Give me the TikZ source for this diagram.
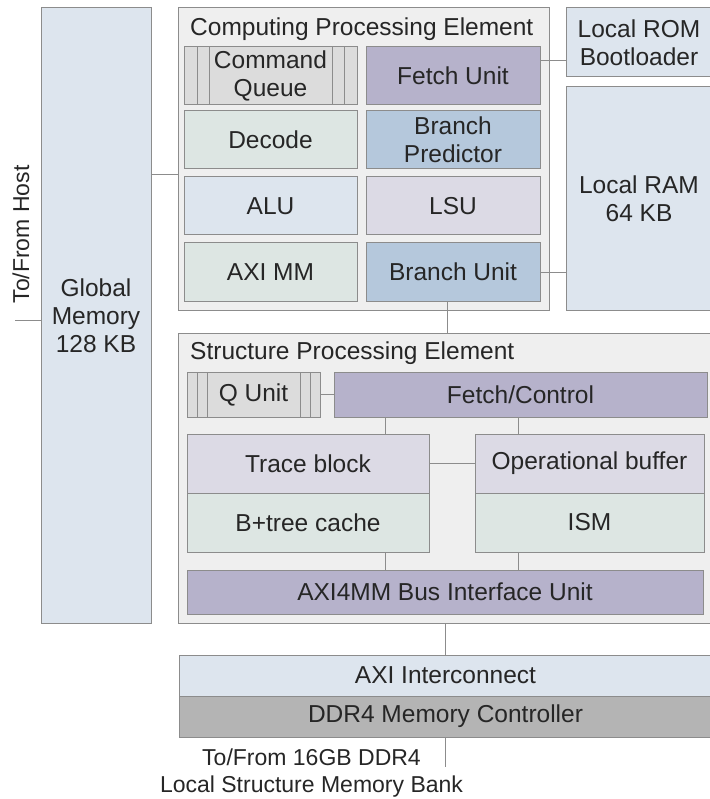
\documentclass[tikz,border=0pt]{standalone}
\usepackage{fontspec}
\setmainfont{Liberation Sans}
\definecolor{edge}{HTML}{8C8C8C}
\definecolor{shell}{HTML}{EFEFEF}
\definecolor{ltblue}{HTML}{DDE5EE}
\definecolor{ltgreen}{HTML}{DDE6E3}
\definecolor{lilac}{HTML}{B6B2CB}
\definecolor{steel}{HTML}{B5C8DC}
\definecolor{mist}{HTML}{DCDAE5}
\definecolor{qgray}{HTML}{DCDCDC}
\definecolor{ddrgray}{HTML}{B4B4B4}
\begin{document}
\begin{tikzpicture}[x=1pt,y=-1pt,
    every node/.style={font=\fontsize{24.5}{28}\selectfont, text=black!85, align=center, inner sep=0pt},
    blk/.style={draw=edge, line width=1pt},
    wire/.style={draw=edge, line width=0.9pt},
    queue/.style={fill=qgray, path picture={
        \foreach \d in {#1} {
            \draw[edge, line width=0.8pt] ([xshift=\d pt]path picture bounding box.north west) -- ([xshift=\d pt]path picture bounding box.south west);
            \draw[edge, line width=0.8pt] ([xshift=-\d pt]path picture bounding box.north east) -- ([xshift=-\d pt]path picture bounding box.south east);
        }}}]
    \useasboundingbox (0,0) rectangle (709,799);

    % host side
    \node[blk, fill=ltblue, minimum width=110pt, minimum height=615pt] (gmem) at (96,315.5) {Global\\Memory\\128 KB};
    \node[rotate=90, font=\fontsize{23}{26}\selectfont] (hosttext) at (21,234.5) {To/From Host};
    \coordinate (host) at (15,320);
    \draw[wire] (host) -- (host -| gmem.west);

    % computing processing element
    \node[blk, fill=shell, minimum width=371pt, minimum height=302pt] (cpe) at (363.5,159) {};
    \node[anchor=west] (cpetitle) at (190,29) {Computing Processing Element};
    \node[blk, queue={13,25}, minimum width=173pt, minimum height=58pt] (cq) at (270.5,76) {Command\\Queue};
    \node[blk, fill=ltgreen, minimum width=173pt, minimum height=58pt] (dec) at (270.5,140) {Decode};
    \node[blk, fill=ltblue, minimum width=173pt, minimum height=58pt] (alu) at (270.5,206) {ALU};
    \node[blk, fill=ltgreen, minimum width=173pt, minimum height=58pt] (axmm) at (270.5,272) {AXI MM};
    \node[blk, fill=lilac, minimum width=174pt, minimum height=58pt] (fetch) at (453,76) {Fetch Unit};
    \node[blk, fill=steel, minimum width=174pt, minimum height=58pt] (bp) at (453,140) {Branch\\Predictor};
    \node[blk, fill=mist, minimum width=174pt, minimum height=58pt] (lsu) at (453,206) {LSU};
    \node[blk, fill=steel, minimum width=174pt, minimum height=58pt] (bu) at (453,272) {Branch Unit};

    % local memories
    \node[blk, fill=ltblue, minimum width=146pt, minimum height=69pt] (rom) at (639,42.5) {Local ROM\\Bootloader};
    \node[blk, fill=ltblue, minimum width=146pt, minimum height=223pt] (ram) at (639,198.5) {Local RAM\\64 KB};

    \draw[wire] ([yshift=-15pt]cpe.west) -- ([yshift=-15pt]cpe.west -| gmem.east);
    \draw[wire] ([yshift=16pt]fetch.east) -- ([yshift=16pt]fetch.east -| rom.west);
    \draw[wire] (bu.east) -- (bu.east -| ram.west);

    % structure processing element
    \node[blk, fill=shell, minimum width=534pt, minimum height=290pt] (spe) at (445,478) {};
    \node[anchor=west] (spetitle) at (190,353) {Structure Processing Element};
    \node[blk, queue={10,20}, minimum width=133pt, minimum height=45pt] (qu) at (253.5,394.5) {Q Unit};
    \node[blk, fill=lilac, minimum width=373pt, minimum height=45pt] (fc) at (520.5,394.5) {Fetch/Control};
    \node[blk, fill=mist, minimum width=242pt, minimum height=59pt] (trace) at (308,463.5) {Trace block};
    \node[blk, fill=ltgreen, minimum width=242pt, minimum height=59pt] (bt) at (308,522.5) {B+tree cache};
    \node[blk, fill=mist, minimum width=229pt, minimum height=59pt] (op) at (589.5,463.5) {Operational buffer};
    \node[blk, fill=ltgreen, minimum width=229pt, minimum height=59pt] (ism) at (589.5,522.5) {ISM};
    \node[blk, fill=lilac, minimum width=516pt, minimum height=44pt] (biu) at (445,592) {AXI4MM Bus Interface Unit};

    \draw[wire] ([xshift=-6pt]bu.south) -- ([xshift=-6pt]bu.south |- spe.north);
    \draw[wire] (qu.east) -- (fc.west);
    \draw[wire] (trace.east) -- (op.west);
    \coordinate (lbus) at (385,0);
    \coordinate (rbus) at (518,0);
    \foreach \c in {lbus,rbus} {
        \draw[wire] (\c |- fc.south) -- (\c |- trace.north);
        \draw[wire] (\c |- bt.south) -- (\c |- biu.north);
    }

    % memory side
    \node[blk, fill=ltblue, minimum width=533pt, minimum height=41pt] (axi) at (445.5,675.5) {AXI Interconnect};
    \node[blk, fill=ddrgray, minimum width=533pt, minimum height=41pt] (ddr) at (445.5,716.5) {DDR4 Memory Controller};
    \coordinate (bank) at (445,767);
    \node[font=\fontsize{23}{27}\selectfont] (banktext) at (311.5,773) {To/From 16GB DDR4\\Local Structure Memory Bank};
    \draw[wire] (spe.south) -- (spe.south |- axi.north);
    \draw[wire] (bank |- ddr.south) -- (bank);
\end{tikzpicture}
\end{document}
